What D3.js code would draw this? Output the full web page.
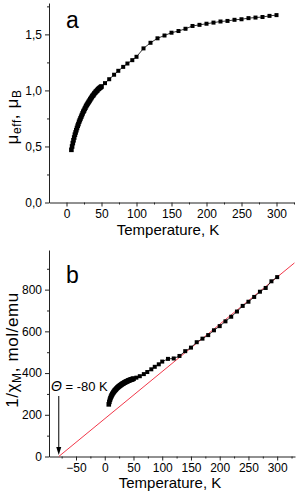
<!DOCTYPE html>
<html><head><meta charset="utf-8">
<script src="https://cdn.jsdelivr.net/npm/d3@7/dist/d3.min.js"></script>
<style>
body{margin:0;background:#fff}
svg{display:block}
text{font-family:"Liberation Sans",Arial,Helvetica,sans-serif;fill:#000}
</style>
</head><body>
<svg id="c" width="301" height="494"></svg>
<script>
// ---------- data ----------
const temperature = [7,8,9,10,11,12,13,14,15,16,17,18,19,20,21,22,23,24,25,26,27,28,29,30,
  31,32,33,34,35,36,37,38,39,40,41,42,43,44,45,46,47,48,49,50,
  55,61,68,74,81,87,94,100,110,120,130,140,150,160,170,180,190,200,210,220,230,240,250,260,270,280,290,300];
const muEff = [0.47,0.50,0.53,0.555,0.58,0.605,0.625,0.645,0.665,0.685,0.70,0.72,0.735,0.75,0.765,0.78,0.795,0.81,0.82,0.835,0.845,0.86,0.87,0.88,
  0.89,0.90,0.91,0.92,0.93,0.94,0.95,0.955,0.965,0.975,0.98,0.99,0.995,1.00,1.01,1.015,1.02,1.025,1.03,1.035,
  1.065,1.10,1.14,1.175,1.21,1.24,1.27,1.30,1.375,1.425,1.465,1.49,1.515,1.53,1.55,1.575,1.585,1.595,1.605,1.615,1.62,1.63,1.635,1.645,1.65,1.655,1.665,1.672];
const invChi = [250,262,272,280,287,293,298,303,307,311,315,318,321,324,327,330,332,335,337,339,341,343,345,347,
  349,350,352,354,355,357,358,360,361,362,364,365,366,367,368,369,370,371,372,373,
  378,385,395,405,418,430,442,455,468,470,482,505,522,548,565,582,605,625,648,670,695,722,742,765,790,808,840,860];
const fitT = [-80, 330];
const fitInvChi = [0, 928];
const xTicksA = [0,50,100,150,200,250,300];
const yTicksA = [0,0.5,1.0,1.5];
const yTickLabelsA = ["0,0","0,5","1,0","1,5"];
const xTicksB = [-50,0,50,100,150,200,250,300];
const yTicksB = [0,200,400,600,800];

// ---------- drawing ----------
const svg = d3.select("#c");
const axisColor = "#222";

function styleAxis(g){
  g.selectAll("path.domain").attr("stroke",axisColor).attr("stroke-width",1);
  g.selectAll(".tick line").attr("stroke",axisColor).attr("stroke-width",1);
  g.selectAll(".tick text").attr("font-size","12px").attr("font-family",'"Liberation Sans",Arial,sans-serif').attr("fill","#000");
}

function panel(opts){
  const x = d3.scaleLinear().domain(opts.xDomain).range([opts.left, opts.right]);
  const y = d3.scaleLinear().domain(opts.yDomain).range([opts.bottom, opts.top]);
  const g = svg.append("g");

  g.append("g").attr("transform",`translate(0,${opts.bottom})`)
    .call(d3.axisBottom(x).tickValues(opts.xMinor).tickSize(2).tickSizeOuter(0).tickFormat(""))
    .call(a=>{a.select("path.domain").remove();styleAxis(a);});
  g.append("g").attr("transform",`translate(${opts.left},0)`)
    .call(d3.axisLeft(y).tickValues(opts.yMinor).tickSize(2).tickSizeOuter(0).tickFormat(""))
    .call(a=>{a.select("path.domain").remove();styleAxis(a);});

  g.append("g").attr("transform",`translate(0,${opts.bottom})`)
    .call(d3.axisBottom(x).tickValues(opts.xTicks).tickSize(4).tickPadding(3).tickSizeOuter(0))
    .call(styleAxis);
  g.append("g").attr("transform",`translate(${opts.left},0)`)
    .call(d3.axisLeft(y).tickValues(opts.yTicks).tickSize(4).tickPadding(3).tickSizeOuter(0)
      .tickFormat((d,i)=>opts.yLabels ? opts.yLabels[i] : d))
    .call(styleAxis);
  return {x,y,g};
}

function series(P, ys, size){
  const pts = temperature.map((t,i)=>[t,ys[i]]);
  P.g.append("path").datum(pts)
    .attr("fill","none").attr("stroke","#000").attr("stroke-width",0.8)
    .attr("d",d3.line().x(d=>P.x(d[0])).y(d=>P.y(d[1])));
  P.g.selectAll(null).data(pts).enter().append("rect")
    .attr("x",d=>P.x(d[0])-size(d[0])/2).attr("y",d=>P.y(d[1])-size(d[0])/2)
    .attr("width",d=>size(d[0])).attr("height",d=>size(d[0])).attr("fill","#000");
}

// Panel a
const A = panel({
  xDomain:[-25,325], yDomain:[0,1.78], left:49, right:294, top:3, bottom:202.5,
  xTicks:xTicksA, yTicks:yTicksA, yLabels:yTickLabelsA,
  xMinor:[25,75,125,175,225,275,325],
  yMinor:[0.25,0.75,1.25,1.75]
});
series(A, muEff, t=> t<=50 ? 4.6 : 4);
svg.append("text").attr("x",66).attr("y",28).attr("font-size","23px").text("a");
svg.append("text").attr("x",168).attr("y",235).attr("text-anchor","middle").attr("font-size","15px").text("Temperature, K");
const ta = svg.append("text").attr("transform","translate(18,117) rotate(-90)").attr("text-anchor","middle")
  .attr("font-size","17px").attr("letter-spacing","0.6px");
ta.append("tspan").text("μ");
ta.append("tspan").attr("font-size","12px").attr("dy",3).text("eff");
ta.append("tspan").attr("dy",-3).text(", μ");
ta.append("tspan").attr("font-size","12px").attr("dy",3).text("B");

// Panel b
const B = panel({
  xDomain:[-97,331], yDomain:[0,990], left:49, right:295, top:250, bottom:456.5,
  xTicks:xTicksB, yTicks:yTicksB,
  xMinor:[-75,-25,25,75,125,175,225,275,325],
  yMinor:[100,300,500,700,900]
});
B.g.append("line")
  .attr("x1",B.x(fitT[0])).attr("y1",B.y(fitInvChi[0]))
  .attr("x2",B.x(fitT[1])).attr("y2",B.y(fitInvChi[1]))
  .attr("stroke","#f2384a").attr("stroke-width",1);
series(B, invChi, t=> t<=50 ? 4.6 : 4);
const ax = B.x(fitT[0]);
svg.append("line").attr("x1",ax).attr("x2",ax).attr("y1",396).attr("y2",450).attr("stroke","#000").attr("stroke-width",1);
svg.append("path").attr("d",`M${ax-2.5},447 L${ax+2.5},447 L${ax},455 Z`).attr("fill","#000");
const th = svg.append("text").attr("x",51).attr("y",391).attr("font-size","13px");
th.append("tspan").attr("font-style","italic").attr("font-size","14px").text("Θ");
th.append("tspan").text(" = -80 K");
svg.append("text").attr("x",66).attr("y",283).attr("font-size","23px").text("b");
svg.append("text").attr("x",170).attr("y",488).attr("text-anchor","middle").attr("font-size","15px").text("Temperature, K");
const tb = svg.append("text").attr("transform","translate(18,350) rotate(-90)").attr("text-anchor","middle")
  .attr("font-size","17px").attr("letter-spacing","0.6px");
tb.append("tspan").text("1/χ");
tb.append("tspan").attr("font-size","12px").attr("dy",3).text("M");
tb.append("tspan").attr("dy",-3).text(", mol/emu");
</script>
</body></html>
